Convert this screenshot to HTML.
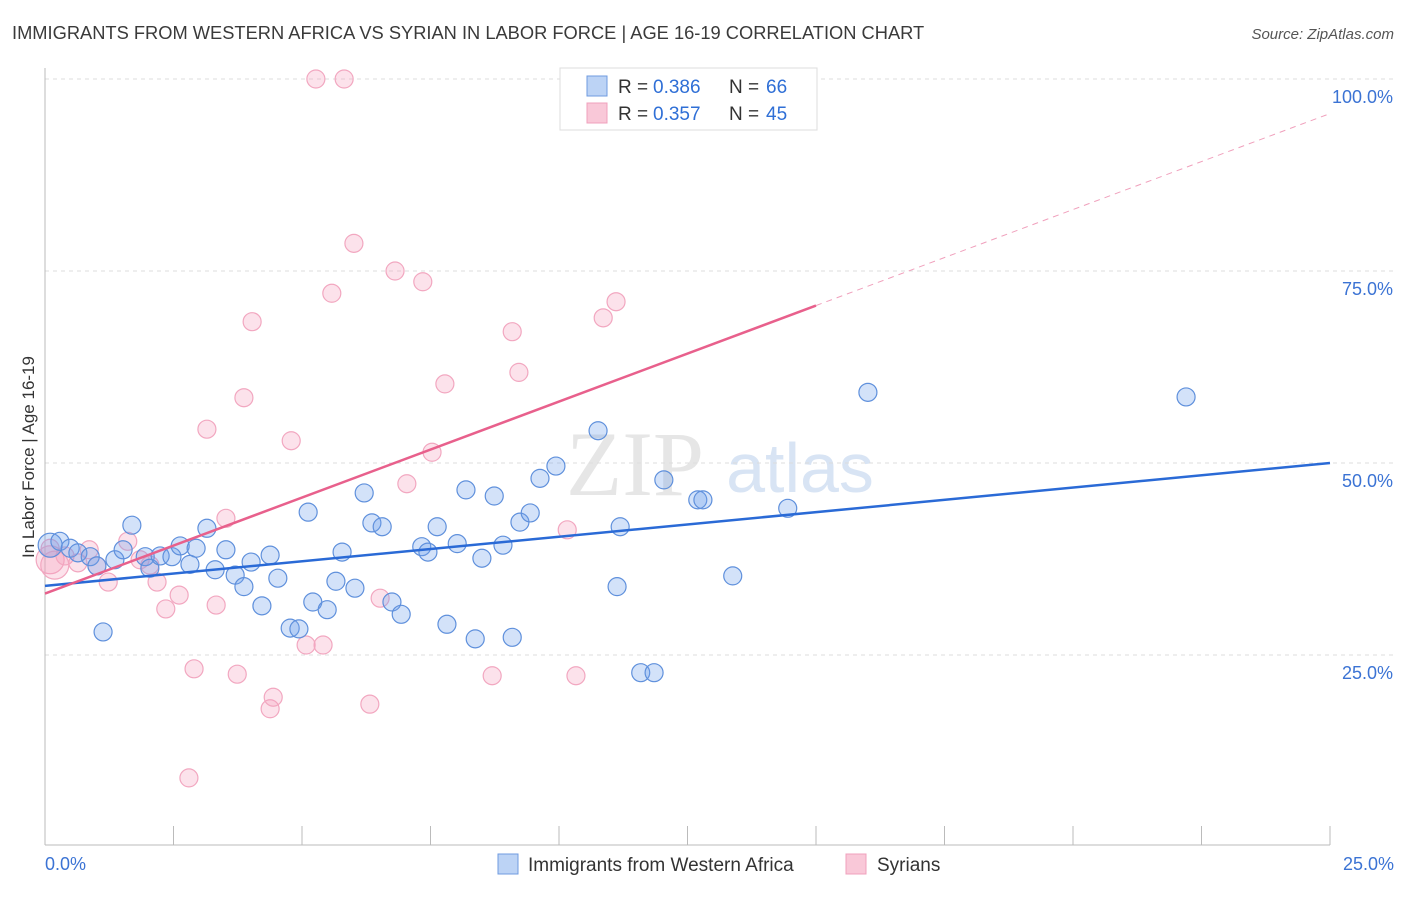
<!DOCTYPE html>
<html><head><meta charset="utf-8"><style>
body{margin:0;background:#fff;font-family:"Liberation Sans",sans-serif}
</style></head><body>
<svg id="c" width="1406" height="892" xmlns="http://www.w3.org/2000/svg">
<text x="12" y="39" font-size="18.3" fill="#3a3a3a">IMMIGRANTS FROM WESTERN AFRICA VS SYRIAN IN LABOR FORCE | AGE 16-19 CORRELATION CHART</text>
<text x="1394" y="39" font-size="15" fill="#555" font-style="italic" text-anchor="end">Source: ZipAtlas.com</text>
<text x="635" y="495" font-size="92" fill="#e6e6e6" font-family="Liberation Serif,serif" text-anchor="middle">ZIP</text>
<text x="800" y="492" font-size="70" fill="#d8e4f4" text-anchor="middle">atlas</text>
<g id="grid"></g><g id="pts"></g><g id="lines"></g>
<text transform="translate(34,457) rotate(-90)" font-size="17" fill="#333" text-anchor="middle">In Labor Force | Age 16-19</text>
<g>
<rect x="560" y="68" width="257" height="62" fill="#fff" stroke="#ddd"/>
<rect x="587" y="76" width="20" height="20" fill="#bcd3f5" stroke="#6f9be0"/>
<rect x="587" y="103" width="20" height="20" fill="#f9c8d8" stroke="#f0a0bc"/>
<text x="618" y="93" font-size="19" fill="#333">R = </text><text x="653" y="93" font-size="19" fill="#2f6fd6">0.386</text>
<text x="729" y="93" font-size="19" fill="#333">N = </text><text x="766" y="93" font-size="19" fill="#2f6fd6">66</text>
<text x="618" y="120" font-size="19" fill="#333">R = </text><text x="653" y="120" font-size="19" fill="#2f6fd6">0.357</text>
<text x="729" y="120" font-size="19" fill="#333">N = </text><text x="766" y="120" font-size="19" fill="#2f6fd6">45</text>
</g>
<g>
<rect x="498" y="854" width="20" height="20" fill="#bcd3f5" stroke="#6f9be0"/>
<text x="528" y="871" font-size="19" fill="#333">Immigrants from Western Africa</text>
<rect x="846" y="854" width="20" height="20" fill="#f9c8d8" stroke="#f0a0bc"/>
<text x="877" y="871" font-size="19" fill="#333">Syrians</text>
</g>
</svg>
<script>
const xTicks=[0,2.5,5,7.5,10,12.5,15,17.5,20,22.5,25];
const yTicks=[25,50,75,100];
const blueX=[0.10,0.29,0.49,0.64,0.88,1.01,1.13,1.36,1.52,1.69,1.95,2.04,2.24,2.47,2.63,2.82,2.94,3.15,3.31,3.52,3.70,3.87,4.01,4.22,4.38,4.53,4.77,4.94,5.12,5.21,5.49,5.66,5.78,6.03,6.21,6.36,6.56,6.75,6.93,7.33,7.45,7.63,7.82,8.02,8.19,8.37,8.50,8.74,8.91,9.09,9.24,9.44,9.63,9.94,10.76,11.13,11.19,11.59,11.85,12.04,12.70,12.80,13.38,14.45,16.01,22.20];
const blueY=[39.3,39.8,38.9,38.3,37.8,36.6,28.0,37.4,38.7,41.9,37.8,36.3,37.9,37.8,39.2,36.8,38.9,41.5,36.1,38.7,35.4,33.9,37.1,31.4,38.0,35.0,28.5,28.4,43.6,31.9,30.9,34.6,38.4,33.7,46.1,42.2,41.7,31.9,30.3,39.1,38.4,41.7,29.0,39.5,46.5,27.1,37.6,45.7,39.3,27.3,42.3,43.5,48.0,49.6,54.2,33.9,41.7,22.7,22.7,47.8,45.2,45.2,35.3,44.1,59.2,58.6];
const pinkX=[0.10,0.19,0.39,0.64,0.86,1.01,1.23,1.61,1.85,2.04,2.18,2.35,2.61,2.80,2.90,3.15,3.33,3.52,3.74,3.87,4.03,4.38,4.44,4.79,5.08,5.27,5.41,5.58,5.82,6.01,6.32,6.52,6.81,7.04,7.35,7.53,7.78,8.70,9.09,9.22,10.16,10.33,10.86,11.11,0.10];
const pinkY=[37.4,36.7,37.9,37.0,38.7,36.6,34.5,39.8,37.4,36.7,34.5,31.0,32.8,9.0,23.2,54.4,31.5,42.8,22.5,58.5,68.4,18.0,19.5,52.9,26.3,100,26.3,72.1,100,78.6,18.6,32.4,75.0,47.3,73.6,51.4,60.3,22.3,67.1,61.8,41.3,22.3,68.9,71.0,38.9];
const blueLine=[0,34.0,25,50.0];
const pinkLine=[0,33.0,15,70.5,25,95.5];
const NS='http://www.w3.org/2000/svg';
const sx=v=>45+v/25*1285, sy=v=>847-v/100*768;
function mk(p,t,a){const e=document.createElementNS(NS,t);for(const k in a)e.setAttribute(k,a[k]);p.appendChild(e);return e;}
const grid=document.getElementById('grid'),pts=document.getElementById('pts'),lines=document.getElementById('lines');
yTicks.forEach(v=>{
 const l=mk(grid,'line',{x1:45,x2:1394,y1:sy(v),y2:sy(v),stroke:'#ddd','stroke-dasharray':'4,4'});
 
 
 const t=mk(grid,'text',{x:1393,y:sy(v)+24,'font-size':18,fill:'#3b73d4','text-anchor':'end'});t.textContent=v.toFixed(1)+'%';
 
 
});
mk(grid,'line',{x1:45,x2:45,y1:68,y2:845,stroke:'#bbb'});
mk(grid,'line',{x1:45,x2:1330,y1:845,y2:845,stroke:'#bbb'});
xTicks.forEach(v=>{
 const l=mk(grid,'line',{x1:sx(v),x2:sx(v),y1:826,y2:845,stroke:'#bbb'});
 
 
});
[[0,'0.0%','start',45],[25,'25.0%','end',1394]].forEach(d=>{
 const t=mk(grid,'text',{x:d[3],y:870,'font-size':18,fill:'#3b73d4','text-anchor':d[2]});t.textContent=d[1];
 
 
});
pinkX.forEach((x,i)=>{
 const r=i===0||i===1?14:9;
 const c=mk(pts,'circle',{cx:sx(x),cy:sy(pinkY[i]),r:r,fill:'rgba(245,160,190,0.3)',stroke:'#f2a7c0','stroke-width':1.2});
 
 
});
blueX.forEach((x,i)=>{
 const r=i===0?12:9;
 const c=mk(pts,'circle',{cx:sx(x),cy:sy(blueY[i]),r:r,fill:'rgba(110,160,235,0.3)',stroke:'#5f90dc','stroke-width':1.2});
 
 
});
let l=mk(lines,'line',{x1:sx(blueLine[0]),y1:sy(blueLine[1]),x2:sx(blueLine[2]),y2:sy(blueLine[3]),stroke:'#2a6ad6','stroke-width':2.5});


l=mk(lines,'line',{x1:sx(pinkLine[0]),y1:sy(pinkLine[1]),x2:sx(pinkLine[2]),y2:sy(pinkLine[3]),stroke:'#e8608c','stroke-width':2.5});


l=mk(lines,'line',{x1:sx(pinkLine[2]),y1:sy(pinkLine[3]),x2:sx(pinkLine[4]),y2:sy(pinkLine[5]),stroke:'#f0a0bc','stroke-width':1,'stroke-dasharray':'6,5'});


</script>
</body></html>
